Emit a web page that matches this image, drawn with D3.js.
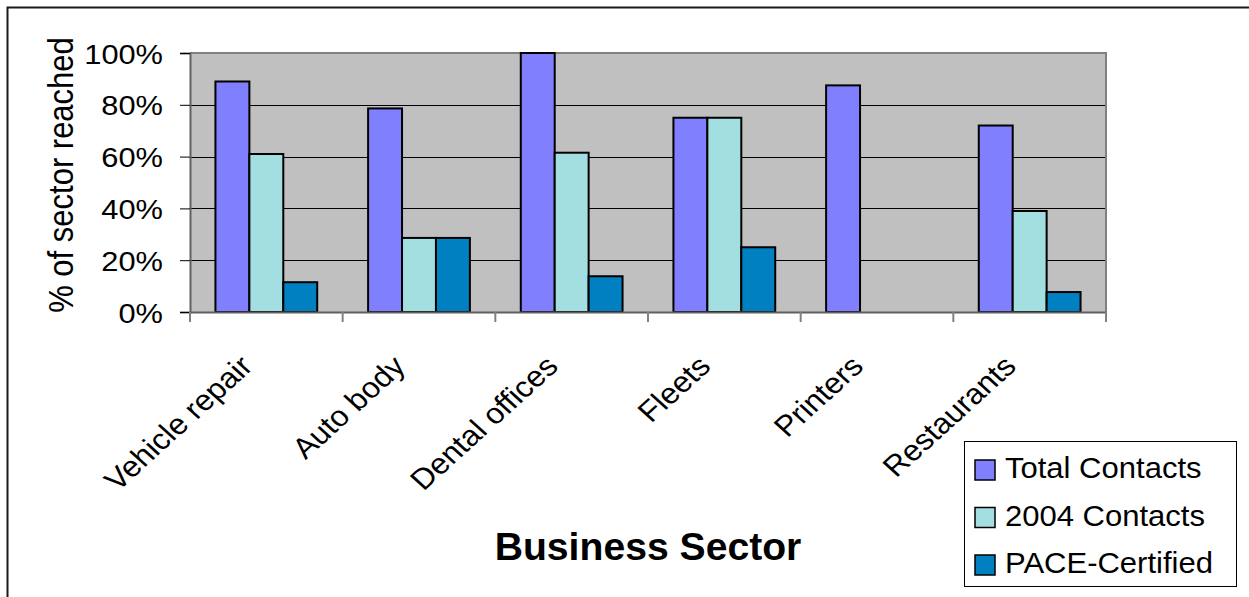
<!DOCTYPE html>
<html>
<head>
<meta charset="utf-8">
<script src="https://cdn.jsdelivr.net/npm/d3@7/dist/d3.min.js"></script>
<style>
  html, body { margin: 0; padding: 0; background: #fff; }
  svg { display: block; font-family: "Liberation Sans", Arial, sans-serif; }
</style>
</head>
<body>
<svg id="chart" width="1249" height="597"></svg>
<script>
// Share of each business sector reached, by contact type
const sectors = ["Vehicle repair", "Auto body", "Dental offices", "Fleets", "Printers", "Restaurants"];
const seriesNames = ["Total Contacts", "2004 Contacts", "PACE-Certified"];
const totalContacts = [0.89, 0.786, 1.00, 0.75, 0.875, 0.72];
const contacts2004 = [0.61, 0.286, 0.615, 0.75, 0, 0.39];
const paceCertified = [0.115, 0.286, 0.138, 0.25, 0, 0.077];
const yTicks = [0, 0.2, 0.4, 0.6, 0.8, 1.0];
const seriesColors = ["#8080ff", "#a3dfe0", "#0080c0"];

const seriesValues = [totalContacts, contacts2004, paceCertified];
const rows = sectors.map((s, i) => ({
  sector: s,
  values: seriesNames.map((n, k) => ({ name: n, value: seriesValues[k][i] }))
}));

const svg = d3.select("#chart");
const plot = { left: 190, right: 1106, top: 53, bottom: 312 };
const stretch = 1.1; // text is drawn slightly wide

// Outer chart frame
svg.append("rect")
  .attr("x", 7.5).attr("y", 7.5)
  .attr("width", 1300).attr("height", 700)
  .attr("fill", "#fff").attr("stroke", "#1a1a1a").attr("stroke-width", 2);

const x0 = d3.scaleBand().domain(sectors).range([plot.left, plot.right]).padding(0);
const x1 = d3.scaleBand().domain(seriesNames).range([0, x0.bandwidth()])
  .paddingInner(0).paddingOuter(0.75);
const y = d3.scaleLinear().domain([0, 1]).range([plot.bottom, plot.top]);
const color = d3.scaleOrdinal().domain(seriesNames).range(seriesColors);

// Plot background
svg.append("rect")
  .attr("x", plot.left).attr("y", plot.top)
  .attr("width", plot.right - plot.left).attr("height", plot.bottom - plot.top)
  .attr("fill", "#c0c0c0");

// Horizontal gridlines
svg.append("g")
  .selectAll("line")
  .data(yTicks.filter(t => t > 0 && t < 1))
  .join("line")
  .attr("x1", plot.left).attr("x2", plot.right)
  .attr("y1", d => Math.round(y(d)) + 0.5).attr("y2", d => Math.round(y(d)) + 0.5)
  .attr("stroke", "#000").attr("stroke-width", 1);

// Plot border (top and right)
svg.append("path")
  .attr("d", `M${plot.left},${plot.top}H${plot.right}V${plot.bottom}`)
  .attr("fill", "none").attr("stroke", "#808080").attr("stroke-width", 2);

// Bars
const groups = svg.append("g")
  .selectAll("g")
  .data(rows)
  .join("g")
  .attr("transform", d => `translate(${x0(d.sector)},0)`);

groups.selectAll("rect")
  .data(d => d.values.filter(v => v.value > 0))
  .join("rect")
  .attr("x", d => x1(d.name))
  .attr("y", d => y(d.value))
  .attr("width", x1.bandwidth())
  .attr("height", d => y(0) - y(d.value))
  .attr("fill", d => color(d.name))
  .attr("stroke", "#000")
  .attr("stroke-width", 2);

// Y axis
const yAxis = d3.axisLeft(y).tickValues(yTicks).tickFormat(d3.format(".0%"))
  .tickSize(10).tickPadding(0);
const gy = svg.append("g").attr("transform", `translate(${plot.left},0)`).call(yAxis);
gy.select(".domain").attr("stroke", "#606060").attr("stroke-width", 2);
gy.selectAll(".tick line").attr("stroke", "#000");
gy.selectAll(".tick text")
  .attr("x", null).attr("dy", null)
  .attr("transform", `translate(-27,10) scale(${stretch},1)`)
  .attr("font-size", 28).attr("fill", "#000")
  .attr("font-family", "'Liberation Sans', Arial, sans-serif");

// X axis with ticks at category boundaries
const xAxis = d3.axisBottom(x0).tickSize(0).tickFormat("");
const gx = svg.append("g").attr("transform", `translate(0,${plot.bottom})`).call(xAxis);
gx.select(".domain").attr("stroke", "#606060").attr("stroke-width", 2);
gx.selectAll(".boundary")
  .data(sectors.concat(["end"]))
  .join("line")
  .attr("class", "boundary")
  .attr("x1", (d, i) => i < sectors.length ? x0(d) : plot.right)
  .attr("x2", (d, i) => i < sectors.length ? x0(d) : plot.right)
  .attr("y1", 0).attr("y2", 10)
  .attr("stroke", "#808080").attr("stroke-width", 2);

// Rotated category labels
svg.append("g")
  .selectAll("text")
  .data(sectors)
  .join("text")
  .attr("transform", d => `translate(${x0(d) + x0.bandwidth() / 2 - 12},${plot.bottom + 56}) scale(${stretch},1) rotate(-45)`)
  .attr("text-anchor", "end")
  .attr("font-size", 29)
  .attr("fill", "#000")
  .text(d => d);

// Axis titles
svg.append("text")
  .attr("transform", "translate(73,175) scale(1.15,1) rotate(-90)")
  .attr("text-anchor", "middle")
  .attr("font-size", 31)
  .attr("fill", "#000")
  .text("% of sector reached");

svg.append("text")
  .attr("transform", `translate(${(plot.left + plot.right) / 2},560) scale(1.03,1)`)
  .attr("text-anchor", "middle")
  .attr("font-size", 38)
  .attr("font-weight", "bold")
  .attr("fill", "#000")
  .text("Business Sector");

// Legend
const legend = svg.append("g");
legend.append("rect")
  .attr("x", 964.5).attr("y", 441.5)
  .attr("width", 272).attr("height", 145)
  .attr("fill", "#fff").attr("stroke", "#000").attr("stroke-width", 1);

const items = legend.selectAll("g.item")
  .data(seriesNames)
  .join("g")
  .attr("class", "item")
  .attr("transform", (d, i) => `translate(975,${460 + i * 47.5})`);

items.append("rect")
  .attr("width", 20).attr("height", 20)
  .attr("fill", d => color(d))
  .attr("stroke", "#000").attr("stroke-width", 1.5);

items.append("text")
  .attr("transform", "translate(30,18) scale(1.07,1)")
  .attr("font-size", 29)
  .attr("fill", "#000")
  .text(d => d);
</script>
</body>
</html>
